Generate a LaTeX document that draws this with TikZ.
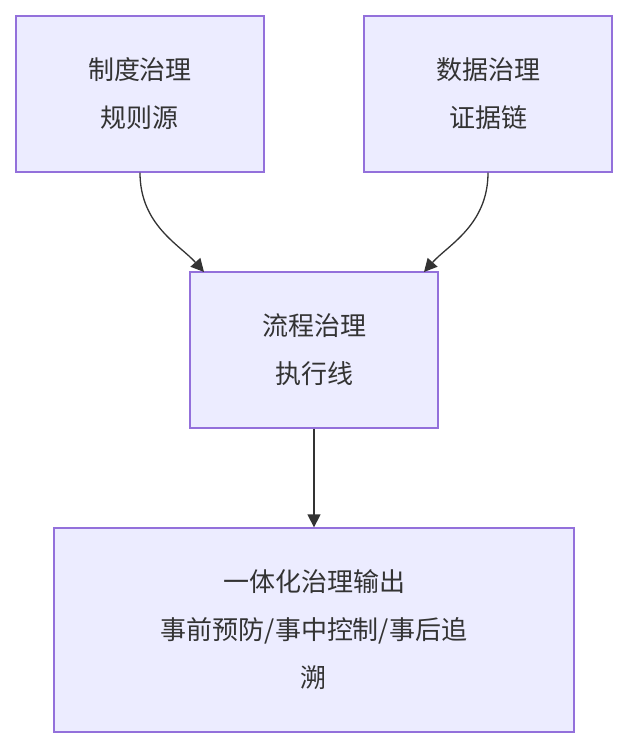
\documentclass[tikz,border=0pt]{standalone}
\usepackage{fontspec}
\newfontfamily\cjk{Noto Sans CJK SC}
\usetikzlibrary{arrows.meta}
\definecolor{boxfill}{HTML}{ECECFF}
\definecolor{boxline}{HTML}{9370DB}
\definecolor{ink}{HTML}{333333}
\begin{document}
\begin{tikzpicture}[x=1pt,y=-1pt,
    box/.style={draw=boxline,fill=boxfill,line width=1.3pt,inner sep=0pt,
      align=center,text=ink,font=\cjk\fontsize{26}{48}\selectfont},
    flow/.style={draw=ink,line width=1.3pt,-{Triangle[length=13pt,width=13pt]}}]
    \useasboundingbox (0,0) rectangle (628,748);
    \node[box,minimum width=248pt,minimum height=156pt] (rule) at (140,94) {制度治理\\规则源};
    \node[box,minimum width=248pt,minimum height=156pt] (data) at (488,94) {数据治理\\证据链};
    \node[box,minimum width=248pt,minimum height=156pt] (proc) at (314,350) {流程治理\\执行线};
    \node[box,minimum width=520pt,minimum height=204pt] (out) at (314,630) {一体化治理输出\\事前预防/事中控制/事后追\\溯};

    \coordinate (procL) at (204,272);
    \coordinate (procR) at (424,272);
    \draw[flow] (rule.south) .. controls (140,225) and (180,245) .. (procL);
    \draw[flow] (data.south) .. controls (488,225) and (448,245) .. (procR);
    \draw[flow] (proc.south) -- (out.north);
\end{tikzpicture}
\end{document}
